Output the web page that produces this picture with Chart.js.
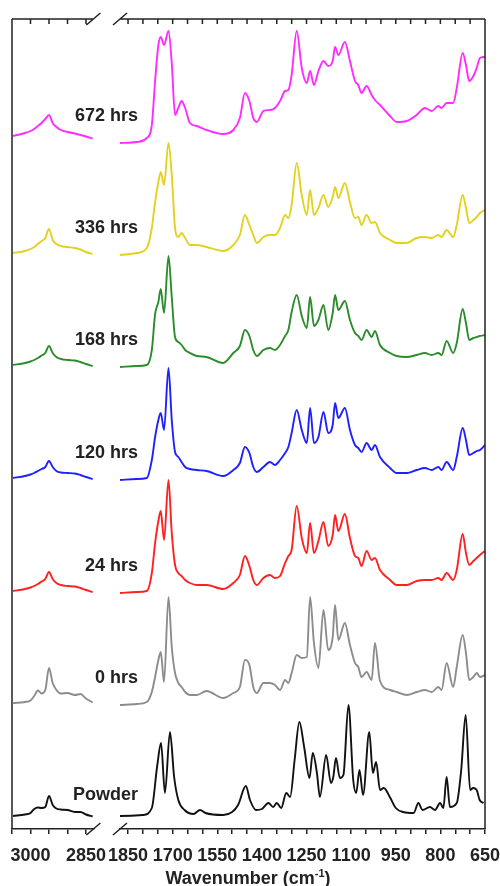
<!DOCTYPE html>
<html>
<head>
<meta charset="utf-8">
<script src="https://cdn.jsdelivr.net/npm/chart.js@4.4.1/dist/chart.umd.min.js"></script>
<style>
  html, body { margin: 0; padding: 0; background: #fff; }
  #wrap { position: relative; width: 500px; height: 886px; overflow: hidden; }
  #wrap canvas { position: absolute; left: 0; top: 0; }
  #xTitle {
    position: absolute; left: 0; width: 496px; top: 868px;
    text-align: center; line-height: 20px; color: #222;
    font: bold 18px "Liberation Sans", Arial, sans-serif;
  }
  #xTitle sup { font-size: 11px; line-height: 0; vertical-align: 7px; }
</style>
</head>
<body>
<div id="wrap">
  <canvas id="leftChart" width="500" height="886"></canvas>
  <canvas id="rightChart" width="500" height="886"></canvas>
  <div id="xTitle">Wavenumber (cm<sup>-1</sup>)</div>
</div>
<script>
// spectra, top to bottom
const seriesNames = ["672 hrs", "336 hrs", "168 hrs", "120 hrs", "24 hrs", "0 hrs", "Powder"];
const seriesColors = ["#ff2bff", "#e2d21e", "#2b8c2b", "#2020ff", "#ff2020", "#8c8c8c", "#111111"];
// vertical offset of each trace (a.u.)
const offsets = [686, 574, 462, 349, 236, 124, 13];

// axis ticks
const leftTicks = [3050, 3000, 2950, 2900, 2850];
const leftTickLabels = [3000, 2850];
const rightTicks = [1850, 1800, 1750, 1700, 1650, 1600, 1550, 1500, 1450, 1400, 1350, 1300,
  1250, 1200, 1150, 1100, 1050, 1000, 950, 900, 850, 800, 750, 700, 650];
const rightTickLabels = [1850, 1700, 1550, 1400, 1250, 1100, 950, 800, 650];

// C-H stretch region
const leftWn = [3047, 3015, 3000, 2990, 2980, 2970, 2960, 2950, 2940, 2930, 2918, 2900, 2880, 2865, 2850, 2832];
const left672 = [7, 10, 12, 14, 17, 20, 24, 28, 20, 16, 13, 11, 9.5, 8, 6.5, 4.5];
const left336 = [2, 4, 6, 8, 11, 14, 17, 26, 15, 11, 9, 8, 7, 5.5, 3, 1];
const left168 = [2, 4, 5.5, 7, 9, 11.5, 14, 21, 14, 10, 8, 7, 6.5, 5, 3, 1];
const left120 = [2, 4, 5.5, 7, 9, 11, 13, 19, 13, 9, 7.5, 7, 6.5, 5, 3, 1];
const left24 = [2, 4, 5.5, 7, 9, 11.5, 14, 21, 14, 10, 8, 7, 6.5, 5, 3, 1];
const left0 = [2, 3, 4.5, 9, 14.5, 11.5, 15, 37, 22, 15, 11.5, 12, 10, 11, 6.5, 2.5];
const leftPowder = [0, 1.5, 3, 7, 8.5, 8, 9, 20, 11, 7.5, 6.5, 6, 4, 4, 1.5, -0.5];

// fingerprint region (films)
const rightWn = [1877, 1821, 1787, 1770, 1759, 1748, 1740, 1729, 1714, 1703,
  1692, 1681, 1670, 1658, 1642, 1619, 1586, 1530, 1496, 1474,
  1457, 1442, 1429, 1417, 1395, 1373, 1356, 1339, 1322, 1311,
  1300, 1283, 1266, 1249, 1238, 1225, 1210, 1193, 1177, 1162,
  1154, 1143, 1121, 1104, 1087, 1076, 1065, 1048, 1031, 1020,
  1003, 969, 947, 913, 880, 852, 829, 807, 796, 779,
  757, 745, 725, 714, 703, 689, 678, 667, 650];
const right672 = [0, 1, 5, 18, 62, 98, 106, 98, 112, 80,
  28, 35, 42, 35, 20, 17, 13, 9, 13, 25,
  50, 42, 25, 21, 32, 33, 35, 42, 52, 53,
  68, 112, 75, 60, 72, 58, 72, 82, 77, 82,
  96, 88, 101, 82, 62, 58, 50, 57, 48, 43,
  38, 27, 21, 22, 28, 35, 32, 37, 35, 40,
  40, 55, 90, 78, 62, 67, 75, 85, 86];
const right336 = [0, 2, 7, 27, 53, 73, 83, 70, 112, 80,
  27, 18, 22, 17, 10, 10, 8, 4, 10, 20,
  40, 30, 20, 12, 18, 20, 20, 27, 40, 37,
  50, 92, 60, 40, 65, 40, 47, 60, 48, 58,
  68, 57, 72, 53, 37, 38, 30, 40, 32, 33,
  22, 15, 12, 12, 17, 18, 17, 20, 18, 25,
  18, 30, 60, 47, 32, 35, 38, 42, 45];
const right168 = [0, 1, 2, 17, 53, 65, 78, 54, 111, 70,
  30, 25, 22, 17, 14, 11, 10, 4, 14, 21,
  37, 31, 17, 11, 17, 19, 17, 22, 31, 37,
  55, 72, 51, 39, 70, 41, 47, 62, 37, 54,
  72, 57, 66, 47, 34, 31, 27, 37, 30, 36,
  22, 14, 11, 10, 12, 14, 12, 14, 12, 26,
  14, 24, 58, 44, 27, 29, 30, 31, 32];
const right120 = [0, 1, 2, 20, 43, 60, 67, 50, 112, 60,
  28, 23, 18, 13, 11, 10, 9, 4, 10, 17,
  33, 27, 13, 8, 13, 18, 15, 20, 27, 33,
  47, 70, 50, 37, 72, 37, 43, 68, 47, 55,
  77, 62, 72, 50, 35, 32, 28, 37, 30, 35,
  23, 12, 7, 7, 10, 12, 10, 13, 10, 18,
  10, 23, 52, 40, 25, 27, 29, 30, 35];
const right24 = [0, 1, 2, 20, 50, 72, 82, 53, 113, 60,
  28, 20, 17, 13, 10, 8, 8, 4, 10, 18,
  37, 27, 13, 8, 15, 18, 15, 17, 30, 37,
  43, 87, 55, 40, 70, 40, 52, 71, 47, 58,
  78, 62, 79, 55, 37, 35, 27, 42, 33, 35,
  23, 13, 8, 8, 12, 13, 13, 15, 13, 20,
  13, 23, 59, 40, 28, 32, 35, 38, 42];
const right0 = [0, 1, 3, 13, 28, 45, 53, 23, 108, 58,
  32, 22, 18, 13, 10, 10, 14, 7, 12, 18,
  45, 40, 18, 12, 22, 22, 20, 15, 25, 22,
  32, 50, 47, 48, 108, 62, 37, 95, 55, 68,
  100, 65, 82, 60, 42, 38, 28, 33, 25, 62,
  24, 15, 13, 10, 13, 15, 13, 18, 15, 42,
  18, 38, 70, 52, 25, 28, 32, 28, 30];

// fingerprint region (powder has its own sampling)
const powderWn = [1877, 1800, 1770, 1752, 1739, 1726, 1709, 1695, 1681, 1660,
  1630, 1608, 1590, 1530, 1500, 1480, 1454, 1440, 1420, 1400,
  1378, 1362, 1350, 1335, 1318, 1305, 1290, 1274, 1258, 1240,
  1229, 1215, 1205, 1184, 1168, 1160, 1151, 1138, 1126, 1109,
  1093, 1083, 1072, 1060, 1039, 1027, 1016, 1003, 990, 970,
  950, 925, 890, 874, 860, 835, 818, 801, 790, 779,
  768, 745, 730, 715, 700, 690, 678, 668, 655];
const rightPowder = [0, 1, 8, 50, 73, 23, 84, 39, 16, 6,
  2, 6, 3, 1, 4, 11, 30, 16, 6, 7,
  13, 9, 13, 8, 23, 19, 56, 94, 69, 38,
  63, 43, 19, 61, 33, 39, 58, 38, 41, 111,
  36, 23, 46, 21, 84, 43, 54, 26, 28, 19,
  8, 4, 3, 13, 6, 9, 6, 13, 8, 39,
  9, 13, 46, 101, 26, 28, 26, 16, 13];

const leftSeries = [left672, left336, left168, left120, left24, left0, leftPowder];
const rightSeries = [right672, right336, right168, right120, right24, right0, rightPowder];
const rightX = [rightWn, rightWn, rightWn, rightWn, rightWn, rightWn, powderWn];

const inkColor = "#222";
const tickFont = { family: "'Liberation Sans', Arial, sans-serif", size: 18, weight: "bold" };

// box, inward top ticks and axis-break marks
const framePlugin = {
  id: "frame",
  afterDraw(chart, args, opts) {
    const { ctx, chartArea: a } = chart;
    const x = chart.scales.x;
    ctx.save();
    ctx.strokeStyle = inkColor;
    ctx.lineWidth = 1.5;
    ctx.beginPath();
    ctx.moveTo(a.left, a.top);
    ctx.lineTo(a.right, a.top);
    const sx = opts.side === "left" ? a.left : a.right;
    ctx.moveTo(sx, a.top);
    ctx.lineTo(sx, a.bottom);
    x.ticks.forEach(t => {
      const px = x.getPixelForValue(t.value);
      ctx.moveTo(px, a.top);
      ctx.lineTo(px, a.top + 5);
    });
    const bx = opts.side === "left" ? a.right : a.left;
    [a.top, a.bottom].forEach(y => {
      ctx.moveTo(bx - 7, y + 6);
      ctx.lineTo(bx + 7, y - 6);
    });
    ctx.stroke();
    ctx.restore();
  }
};

// trace names
const namePlugin = {
  id: "names",
  afterDatasetsDraw(chart) {
    const { ctx, chartArea: a } = chart;
    const y = chart.scales.y;
    ctx.save();
    ctx.fillStyle = inkColor;
    ctx.font = "bold 18px 'Liberation Sans', Arial, sans-serif";
    ctx.textAlign = "right";
    ctx.textBaseline = "middle";
    seriesNames.forEach((name, i) => {
      const lift = i === seriesNames.length - 1 ? 21 : 27;
      ctx.fillText(name, a.left + 18, y.getPixelForValue(offsets[i]) - lift);
    });
    ctx.restore();
  }
};

function makeChart(id, side, xs, ys, xMin, xMax, ticks, tickLabels, padding) {
  const datasets = ys.map((vals, i) => ({
    label: seriesNames[i],
    data: vals.map((v, j) => ({ x: xs[i][j], y: v + offsets[i] })),
    borderColor: seriesColors[i],
    borderWidth: 1.9,
    pointRadius: 0,
    cubicInterpolationMode: "monotone",
    fill: false
  }));
  return new Chart(document.getElementById(id), {
    type: "line",
    data: { datasets },
    options: {
      responsive: false,
      animation: false,
      layout: { padding },
      plugins: {
        legend: { display: false },
        tooltip: { enabled: false },
        frame: { side }
      },
      scales: {
        x: {
          type: "linear",
          reverse: true,
          min: xMin,
          max: xMax,
          afterBuildTicks: s => { s.ticks = ticks.map(v => ({ value: v })); },
          afterFit: s => { s.height = 57; s.paddingLeft = 0; s.paddingRight = 0; },
          grid: { display: true, drawOnChartArea: false, drawTicks: true, tickLength: 5, color: inkColor, lineWidth: 1.5 },
          border: { display: true, color: inkColor, width: 1.5 },
          ticks: {
            autoSkip: false, maxRotation: 0, minRotation: 0, padding: 11,
            color: inkColor, font: tickFont,
            callback: v => tickLabels.includes(v) ? String(v) : ""
          }
        },
        y: { display: false, min: 0, max: 810 }
      }
    },
    plugins: side === "right" ? [framePlugin, namePlugin] : [framePlugin]
  });
}

const xsLeft = leftSeries.map(() => leftWn);
makeChart("leftChart", "left", xsLeft, leftSeries, 2830, 3050, leftTicks, leftTickLabels,
  { left: 12, right: 406.6, top: 19, bottom: 0 });
makeChart("rightChart", "right", rightX, rightSeries, 650, 1877, rightTicks, rightTickLabels,
  { left: 120, right: 15, top: 19, bottom: 0 });
</script>
</body>
</html>
